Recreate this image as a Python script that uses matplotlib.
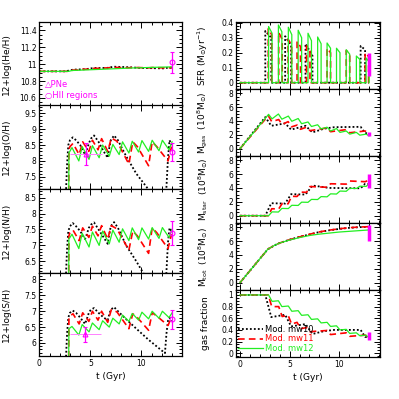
import matplotlib
matplotlib.use("Agg")
import matplotlib.pyplot as plt
from matplotlib.ticker import MultipleLocator, FuncFormatter

plt.rcParams['font.family'] = ['DejaVu Sans']
plt.rcParams['mathtext.fontset'] = 'dejavusans'

# ---------------- data ----------------
# 12+log(He/H)
he_t_mw10 = [0, 2.55, 3.3, 4.5, 5.35, 6.6, 7.3, 8.5, 10, 12.15, 12.7, 13.0]
he_mw10 = [10.915, 10.915, 10.935, 10.94, 10.955, 10.955, 10.97, 10.965, 10.955, 10.95, 10.96, 10.955]
he_t_mw11 = [0, 2.85, 3.3, 3.9, 4.25, 4.85, 5.2, 5.75, 6.1, 6.7, 7.05, 8.77, 9.1, 10.7, 11.05, 12.6, 12.95]
he_mw11 = [10.915, 10.915, 10.93, 10.93, 10.94, 10.94, 10.95, 10.95, 10.955, 10.955, 10.962, 10.957, 10.962, 10.956, 10.96, 10.955, 10.958]
he_t_mw12 = [0, 2.88, 3.2, 4.2, 5.2, 6.2, 7.2, 8.15, 9.1, 10.05, 11.05, 12.05, 13.0]
he_mw12 = [10.915, 10.915, 10.925, 10.93, 10.935, 10.94, 10.945, 10.95, 10.955, 10.958, 10.962, 10.965, 10.968]

# O, N, S for mw10
z_t_mw10 = [2.45, 2.62, 2.72, 2.84, 3.0, 3.27, 3.6, 4.0, 4.48, 4.65, 4.85, 5.05, 5.36, 5.8, 6.3, 6.7,
            6.85, 7.0, 7.32, 7.7, 8.5, 9.5, 10.7, 12.3, 12.45, 12.6, 12.75, 12.95]
o_mw10 = [6.5, 7.1, 7.9, 8.5, 8.65, 8.74, 8.65, 8.5, 8.2, 8.35, 8.55, 8.7, 8.8, 8.6, 8.3, 8.1,
          8.4, 8.65, 8.8, 8.65, 8.15, 7.6, 7.1, 6.4, 7.2, 8.1, 8.65, 8.5]
n_mw10 = [5.5, 6.15, 6.9, 7.45, 7.6, 7.7, 7.6, 7.45, 7.2, 7.35, 7.55, 7.65, 7.72, 7.5, 7.25, 7.05,
          7.35, 7.6, 7.73, 7.55, 7.0, 6.5, 5.85, 5.1, 6.2, 7.1, 7.55, 7.45]
s_mw10 = [5.2, 5.59, 6.3, 6.8, 6.95, 7.02, 6.95, 6.8, 6.6, 6.75, 6.95, 7.05, 7.1, 6.95, 6.8, 6.72,
          6.9, 7.05, 7.13, 7.0, 6.75, 6.45, 6.1, 5.68, 6.3, 6.7, 6.8, 6.7]

# O, N, S for mw11
z_t_mw11 = [2.87, 2.9, 3.0, 3.3, 3.9, 4.25, 4.85, 5.2, 5.75, 6.1, 6.7, 7.05, 7.6, 8.77, 9.15, 9.6,
            10.7, 11.05, 11.5, 12.6, 12.95]
o_mw11 = [6.0, 8.35, 8.45, 8.55, 8.2, 8.6, 8.3, 8.65, 8.35, 8.7, 8.3, 8.72, 8.62, 7.9, 8.6, 8.45,
          7.85, 8.6, 8.45, 8.0, 8.45]
n_mw11 = [5.5, 7.3, 7.4, 7.48, 7.15, 7.55, 7.25, 7.6, 7.3, 7.62, 7.2, 7.62, 7.52, 6.85, 7.45, 7.3,
          6.75, 7.55, 7.4, 6.9, 7.35]
s_mw11 = [5.2, 6.75, 6.85, 6.92, 6.6, 6.95, 6.68, 7.0, 6.72, 7.0, 6.65, 7.05, 6.98, 6.45, 6.92, 6.8,
          6.4, 6.95, 6.85, 6.55, 6.82]

# O, N, S for mw12
z_t_mw12 = [2.87, 2.9, 3.2, 3.87, 4.2, 4.87, 5.2, 5.86, 6.2, 6.85, 7.2, 7.82, 8.15, 8.77, 9.1, 9.72,
            10.05, 10.7, 11.05, 11.72, 12.05, 12.7, 13.0]
o_mw12 = [6.0, 8.25, 8.42, 8.0, 8.45, 8.05, 8.48, 8.1, 8.5, 8.15, 8.52, 8.2, 8.6, 8.25, 8.62, 8.28,
          8.64, 8.3, 8.65, 8.32, 8.65, 8.35, 8.6]
n_mw12 = [5.5, 7.2, 7.35, 6.9, 7.38, 6.95, 7.42, 7.0, 7.45, 7.05, 7.48, 7.1, 7.52, 7.15, 7.55, 7.18,
          7.55, 7.2, 7.56, 7.22, 7.56, 7.25, 7.5]
s_mw12 = [5.2, 6.45, 6.52, 6.25, 6.58, 6.35, 6.63, 6.42, 6.7, 6.5, 6.78, 6.6, 6.88, 6.68, 6.93, 6.72,
          6.97, 6.76, 7.0, 6.78, 7.0, 6.8, 6.95]

# SFR bursts (start, end, value at start, value at end)
sfr_start_mw10 = [2.55, 4.55, 6.6, 12.15]
sfr_end_mw10 = [3.15, 5.15, 7.3, 12.6]
sfr_peak_mw10 = [0.345, 0.31, 0.26, 0.245]
sfr_tail_mw10 = [0.30, 0.25, 0.18, 0.22]
sfr_start_mw11 = [2.85, 3.9, 4.85, 5.75, 6.7, 8.77, 10.7, 12.6]
sfr_end_mw11 = [3.2, 4.25, 5.2, 6.1, 7.05, 9.12, 11.05, 12.95]
sfr_peak_mw11 = [0.36, 0.335, 0.29, 0.275, 0.245, 0.23, 0.215, 0.2]
sfr_tail_mw11 = [0.32, 0.29, 0.25, 0.24, 0.21, 0.20, 0.19, 0.175]
sfr_start_mw12 = [2.88, 3.87, 4.87, 5.86, 6.85, 7.82, 8.77, 9.72, 10.7, 11.72, 12.7]
sfr_end_mw12 = [3.23, 4.22, 5.22, 6.21, 7.2, 8.17, 9.12, 10.07, 11.05, 12.07, 13.0]
sfr_peak_mw12 = [0.375, 0.385, 0.37, 0.35, 0.33, 0.305, 0.265, 0.23, 0.22, 0.178, 0.165]
sfr_tail_mw12 = [0.33, 0.34, 0.32, 0.30, 0.28, 0.26, 0.23, 0.20, 0.19, 0.155, 0.14]
t_end = 13.0

# Gas mass (1e8 Msun)
mg_t_mw10 = [0, 2.55, 3.15, 4.55, 5.15, 6.6, 7.3, 8.5, 9.5, 12.15, 12.6, 13.0]
mgas_mw10 = [0, 4.55, 3.3, 3.65, 2.75, 3.3, 2.35, 2.9, 3.1, 3.15, 2.25, 2.2]
mg_t_mw11 = [0, 2.85, 3.2, 3.9, 4.25, 4.85, 5.2, 5.75, 6.1, 6.7, 7.05, 8.77, 9.12, 10.7, 11.05, 12.6, 12.95]
mgas_mw11 = [0, 4.75, 3.9, 4.2, 3.5, 3.9, 3.15, 3.4, 2.8, 3.1, 2.6, 3.0, 2.45, 2.75, 2.3, 2.55, 2.3]
mg_t_mw12 = [0, 2.88, 3.23, 3.87, 4.22, 4.87, 5.22, 5.86, 6.21, 6.85, 7.2, 7.82, 8.17, 8.77, 9.12,
             9.72, 10.07, 10.7, 11.05, 11.72, 12.07, 12.7, 13.0]
mgas_mw12 = [0, 4.95, 4.3, 5.0, 4.25, 4.7, 3.95, 4.35, 3.6, 3.85, 3.2, 3.45, 2.85, 3.1, 2.55,
             2.9, 2.35, 2.55, 2.1, 2.35, 1.95, 2.1, 1.85]

# Stellar mass
ms_t_mw10 = [0, 2.55, 3.15, 4.55, 5.15, 6.6, 7.3, 9.0, 12.15, 12.6, 13.0]
mstar_mw10 = [0, 0, 1.8, 1.75, 3.1, 3.05, 4.35, 4.0, 3.95, 4.6, 4.55]
mstar_mw11 = [0, 0, 1.0, 0.98, 1.75, 1.72, 2.8, 2.77, 3.4, 3.37, 4.2, 4.1, 4.6, 4.55, 5.0, 4.9, 5.1]
mstar_mw12 = [0, 0, 0.55, 0.53, 1.05, 1.03, 1.5, 1.48, 1.95, 1.93, 2.35, 2.33, 2.75, 2.72, 3.15,
              3.12, 3.55, 3.52, 3.95, 3.92, 4.25, 4.22, 4.6]

# Total mass
mt_t = [0, 1, 2, 2.8, 3.5, 4, 5, 6, 7, 8, 9, 10, 11, 12, 13]
mtot_mw10 = [0, 1.72, 3.44, 4.82, 5.4, 5.72, 6.2, 6.6, 6.95, 7.3, 7.55, 7.75, 7.9, 8.0, 8.05]
mtot_mw11 = [0, 1.72, 3.44, 4.82, 5.4, 5.72, 6.2, 6.6, 6.97, 7.32, 7.57, 7.77, 7.92, 8.02, 8.07]
mtot_mw12 = [0, 1.72, 3.44, 4.82, 5.4, 5.72, 6.15, 6.5, 6.8, 7.0, 7.15, 7.3, 7.4, 7.5, 7.6]

# Gas fraction
gf_mw10 = [1, 1, 0.62, 0.66, 0.46, 0.5, 0.33, 0.38, 0.4, 0.4, 0.28, 0.27]
gf_mw11 = [1, 1, 0.8, 0.8, 0.63, 0.65, 0.5, 0.53, 0.42, 0.44, 0.37, 0.39, 0.32, 0.35, 0.29, 0.31, 0.28]
gf_mw12 = [1, 1, 0.89, 0.9, 0.8, 0.81, 0.72, 0.73, 0.65, 0.66, 0.58, 0.59, 0.52, 0.53, 0.46,
           0.47, 0.4, 0.41, 0.34, 0.35, 0.3, 0.31, 0.26]

# Observations
obs_t = 13.0
he_hii, he_hii_err = 11.02, 0.12
o_pne_t, o_pne, o_pne_terr, o_pne_err = 4.55, 8.22, 1.55, 0.35
o_hii, o_hii_err = 8.28, 0.28
n_hii, n_hii_err = 7.4, 0.38
s_pne_t, s_pne, s_pne_terr, s_pne_err = 4.5, 6.27, 1.5, 0.23
s_hii, s_hii_err = 6.75, 0.3
sfr_obs = [0.045, 0.2]
mgas_obs = [1.8, 2.4]
mstar_obs = [4.0, 6.0]
mtot_obs = [6.0, 8.3]
gf_obs = [0.22, 0.36]

labels = ["Mod. mw10", "Mod. mw11", "Mod. mw12"]

# ---------------- styles ----------------
GREEN = '#22ee22'
sty10 = dict(color='black', ls=(0, (1, 1.2)), lw=1.3)
sty11 = dict(color='red', ls=(0, (4, 2.5)), lw=1.2)
sty12 = dict(color=GREEN, ls='-', lw=0.9)
MAG = '#ff00ff'
LMAG = '#ff80ff'


def burst_series(starts, ends, peaks, tails, tend):
    t, v = [0.0], [0.0]
    for s, e, p, q in zip(starts, ends, peaks, tails):
        t += [s, s, e, e]
        v += [0, p, q, 0]
    if t[-1] < tend:
        t.append(tend)
        v.append(0)
    return t, v


fig = plt.figure(figsize=(3.99, 3.99), dpi=100)
fmt = FuncFormatter(lambda x, p: '%g' % round(x, 6))

L_left, L_w = 39.3 / 399, (182.3 - 39.3) / 399
L_top, L_bot = 1 - 22 / 399, 1 - 356 / 399
R_left, R_w = 236 / 399, (380 - 236) / 399
R_top, R_bot = 1 - 22 / 399, 1 - 357 / 399

lh = (L_top - L_bot) / 4
rh = (R_top - R_bot) / 5
laxes = [fig.add_axes([L_left, L_top - (i + 1) * lh, L_w, lh]) for i in range(4)]
raxes = [fig.add_axes([R_left, R_top - (i + 1) * rh, R_w, rh]) for i in range(5)]


def style(ax, ymaj, ymin, xlim, ylim, ylabel, lx, bottom):
    ax.set_xlim(*xlim)
    ax.set_ylim(*ylim)
    ax.xaxis.set_major_locator(MultipleLocator(5))
    ax.xaxis.set_minor_locator(MultipleLocator(1))
    ax.yaxis.set_major_locator(MultipleLocator(ymaj))
    ax.yaxis.set_minor_locator(MultipleLocator(ymin))
    ax.yaxis.set_major_formatter(fmt)
    ax.xaxis.set_major_formatter(fmt)
    ax.tick_params(which='both', direction='in', top=True, right=True, labelsize=5.5, width=0.7, pad=2)
    ax.tick_params(which='major', length=4)
    ax.tick_params(which='minor', length=2)
    for s in ax.spines.values():
        s.set_linewidth(0.9)
    ax.set_ylabel(ylabel, fontsize=6.5)
    ax.yaxis.set_label_coords(lx, 0.5)
    if bottom:
        ax.set_xlabel('t (Gyr)', fontsize=6.5, labelpad=3)
    else:
        ax.tick_params(labelbottom=False)


lxlim = (0, 14)
rxlim = (-0.4, 14.1)

# He
ax = laxes[0]
ax.plot(he_t_mw10, he_mw10, **sty10)
ax.plot(he_t_mw11, he_mw11, **sty11)
ax.plot(he_t_mw12, he_mw12, **sty12)
ax.errorbar([obs_t], [he_hii], yerr=[he_hii_err], fmt='o', mfc='none', mec=MAG, ecolor=MAG,
            ms=3.5, capsize=1.5, elinewidth=0.9, mew=0.8)
ax.text(0.04, 0.25, '\u25b3PNe', color=MAG, fontsize=6, transform=ax.transAxes, va='center')
ax.text(0.04, 0.115, '\u25cbHII regions', color=MAG, fontsize=6, transform=ax.transAxes, va='center')
style(ax, 0.2, 0.05, lxlim, (10.51, 11.5), '12+log(He/H)', -0.2, False)

# O
ax = laxes[1]
ax.plot(z_t_mw10, o_mw10, **sty10)
ax.plot(z_t_mw11, o_mw11, **sty11)
ax.plot(z_t_mw12, o_mw12, **sty12)
ax.errorbar([o_pne_t], [o_pne], xerr=[o_pne_terr], fmt='none', ecolor=LMAG, elinewidth=0.7)
ax.errorbar([o_pne_t], [o_pne], yerr=[o_pne_err], fmt='^', mfc='none', mec=MAG, ecolor=MAG,
            ms=3.5, capsize=1.5, elinewidth=0.9, mew=0.8)
ax.errorbar([obs_t], [o_hii], yerr=[o_hii_err], fmt='o', mfc='none', mec=MAG, ecolor=MAG,
            ms=3.5, capsize=1.5, elinewidth=0.9, mew=0.8)
style(ax, 0.5, 0.1, lxlim, (7.12, 9.74), '12+log(O/H)', -0.2, False)

# N
ax = laxes[2]
ax.plot(z_t_mw10, n_mw10, **sty10)
ax.plot(z_t_mw11, n_mw11, **sty11)
ax.plot(z_t_mw12, n_mw12, **sty12)
ax.errorbar([obs_t], [n_hii], yerr=[n_hii_err], fmt='o', mfc='none', mec=MAG, ecolor=MAG,
            ms=3.5, capsize=1.5, elinewidth=0.9, mew=0.8)
style(ax, 0.5, 0.1, lxlim, (6.15, 8.77), '12+log(N/H)', -0.2, False)

# S
ax = laxes[3]
ax.plot(z_t_mw10, s_mw10, **sty10)
ax.plot(z_t_mw11, s_mw11, **sty11)
ax.plot(z_t_mw12, s_mw12, **sty12)
ax.errorbar([s_pne_t], [s_pne], xerr=[s_pne_terr], fmt='none', ecolor=LMAG, elinewidth=0.7)
ax.errorbar([s_pne_t], [s_pne], yerr=[s_pne_err], fmt='^', mfc='none', mec=MAG, ecolor=MAG,
            ms=3.5, capsize=1.5, elinewidth=0.9, mew=0.8)
ax.errorbar([obs_t], [s_hii], yerr=[s_hii_err], fmt='o', mfc='none', mec=MAG, ecolor=MAG,
            ms=3.5, capsize=1.5, elinewidth=0.9, mew=0.8)
style(ax, 0.5, 0.1, lxlim, (5.59, 8.22), '12+log(S/H)', -0.2, True)

# SFR
ax = raxes[0]
t, v = burst_series(sfr_start_mw10, sfr_end_mw10, sfr_peak_mw10, sfr_tail_mw10, t_end)
ax.plot(t, v, **sty10)
t, v = burst_series(sfr_start_mw11, sfr_end_mw11, sfr_peak_mw11, sfr_tail_mw11, t_end)
ax.plot(t, v, **sty11)
t, v = burst_series(sfr_start_mw12, sfr_end_mw12, sfr_peak_mw12, sfr_tail_mw12, t_end)
ax.plot(t, v, **sty12)
ax.vlines(obs_t, sfr_obs[0], sfr_obs[1], color=MAG, lw=2.5)
style(ax, 0.1, 0.02, rxlim, (-0.042, 0.405), r'SFR (M$_{\odot}$yr$^{-1}$)', -0.18, False)

# Mgas
ax = raxes[1]
ax.plot(mg_t_mw10, mgas_mw10, **sty10)
ax.plot(mg_t_mw11, mgas_mw11, **sty11)
ax.plot(mg_t_mw12, mgas_mw12, **sty12)
ax.vlines(obs_t, mgas_obs[0], mgas_obs[1], color=MAG, lw=2.5)
style(ax, 2, 0.5, rxlim, (-1.05, 8.6), r'M$_{\rm gas}$  (10$^8$M$_{\odot}$)', -0.18, False)

# Mstar
ax = raxes[2]
ax.plot(ms_t_mw10, mstar_mw10, **sty10)
ax.plot(mg_t_mw11, mstar_mw11, **sty11)
ax.plot(mg_t_mw12, mstar_mw12, **sty12)
ax.vlines(obs_t, mstar_obs[0], mstar_obs[1], color=MAG, lw=2.5)
style(ax, 2, 0.5, rxlim, (-1.05, 8.6), r'M$_{\rm star}$  (10$^8$M$_{\odot}$)', -0.18, False)

# Mtot
ax = raxes[3]
ax.plot(mt_t, mtot_mw10, **sty10)
ax.plot(mt_t, mtot_mw11, **sty11)
ax.plot(mt_t, mtot_mw12, **sty12)
ax.vlines(obs_t, mtot_obs[0], mtot_obs[1], color=MAG, lw=2.5)
style(ax, 2, 0.5, rxlim, (-1.05, 8.6), r'M$_{\rm tot}$  (10$^8$M$_{\odot}$)', -0.18, False)

# gas fraction
ax = raxes[4]
l1, = ax.plot(mg_t_mw10, gf_mw10, **sty10)
l2, = ax.plot(mg_t_mw11, gf_mw11, **sty11)
l3, = ax.plot(mg_t_mw12, gf_mw12, **sty12)
ax.vlines(obs_t, gf_obs[0], gf_obs[1], color=MAG, lw=2.5)
style(ax, 0.2, 0.05, rxlim, (-0.065, 1.085), 'gas fraction', -0.18, True)
ax.legend([l1, l2, l3], labels, loc='lower left', bbox_to_anchor=(0.0, 0.03), fontsize=6,
          frameon=False, handlelength=3.0, handletextpad=0.3, labelspacing=0.1,
          borderaxespad=0, borderpad=0.2, labelcolor=['black', 'red', GREEN])

fig.savefig('out.png', dpi=100)
